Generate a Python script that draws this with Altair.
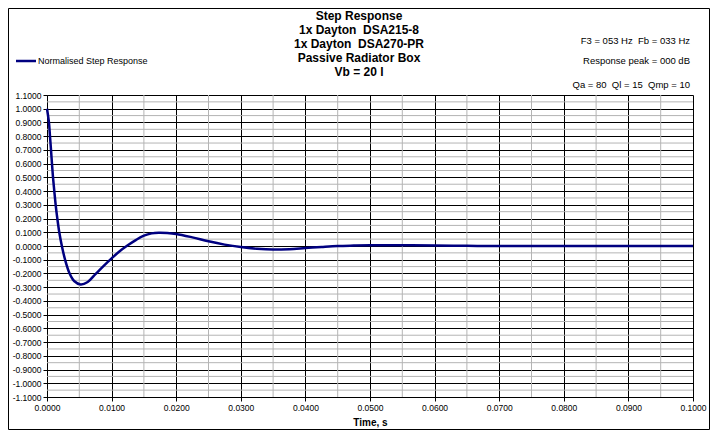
import altair as alt
import pandas as pd

# ---- data ----
time_s = [0.0, 0.0003, 0.00046, 0.00062, 0.00077, 0.00093, 0.00113, 0.00134, 0.0016, 0.0019,
          0.0023, 0.0028, 0.0035, 0.0042, 0.0052, 0.0063, 0.0075, 0.0087, 0.0100, 0.0112,
          0.0125, 0.0138, 0.0150, 0.0162, 0.0173, 0.0186, 0.0200, 0.0225, 0.0250, 0.0275,
          0.0300, 0.0325, 0.0350, 0.0375, 0.0400, 0.0425, 0.0450, 0.0475, 0.0500, 0.0550,
          0.0600, 0.0650, 0.0700, 0.0800, 0.0900, 0.1000]
step_resp = [1.0, 0.9, 0.8, 0.7, 0.6, 0.5, 0.4, 0.3, 0.2, 0.1,
             0.0, -0.1, -0.2, -0.255, -0.28, -0.262, -0.205, -0.148, -0.09, -0.04,
             0.005, 0.045, 0.075, 0.092, 0.097, 0.095, 0.088, 0.063, 0.034, 0.01,
             -0.008, -0.02, -0.026, -0.023, -0.015, -0.007, 0.0, 0.003, 0.005, 0.005,
             0.003, 0.001, 0.0, 0.0, 0.0, 0.0]

x_major = [0.0, 0.01, 0.02, 0.03, 0.04, 0.05, 0.06, 0.07, 0.08, 0.09, 0.1]
x_minor = [0.005, 0.015, 0.025, 0.035, 0.045, 0.055, 0.065, 0.075, 0.085, 0.095]
y_major = [-1.1, -1.0, -0.9, -0.8, -0.7, -0.6, -0.5, -0.4, -0.3, -0.2, -0.1, 0.0,
           0.1, 0.2, 0.3, 0.4, 0.5, 0.6, 0.7, 0.8, 0.9, 1.0, 1.1]
y_minor = [-1.05, -0.95, -0.85, -0.75, -0.65, -0.55, -0.45, -0.35, -0.25, -0.15, -0.05,
           0.05, 0.15, 0.25, 0.35, 0.45, 0.55, 0.65, 0.75, 0.85, 0.95, 1.05]

NB = "\u00a0"
title_lines = ["Step Response", "1x Dayton" + NB + " DSA215-8", "1x Dayton" + NB + " DSA270-PR",
               "Passive Radiator Box", "Vb = 20 l"]
note_lines = ["F3 = 053 Hz" + NB + " Fb = 033 Hz", "Response peak = 000 dB",
              "Qa = 80" + NB + " Ql = 15" + NB + " Qmp = 10"]
series_name = "Normalised Step Response"
x_title = "Time, s"

FONT = "Liberation Sans"
NAVY = "#000080"
W, H = 646, 302

df = pd.DataFrame({"t": time_s, "v": step_resp})
xs = alt.Scale(domain=[0, 0.1], nice=False, zero=False)
ys = alt.Scale(domain=[-1.1, 1.1], nice=False, zero=False)

lbl = "replace(format(datum.value, '.4f'), '\u2212', '-')"

x_axis = alt.Axis(values=x_major, labelExpr=lbl, grid=True, gridColor="black",
                  gridOpacity=1, gridWidth=1, tickColor="black", tickSize=4,
                  domainColor="black", labelFont=FONT, labelFontSize=8.5,
                  labelColor="black", labelPadding=2, titleFont=FONT,
                  titleFontSize=10, titleFontWeight="bold", titleColor="black",
                  titlePadding=6, labelFlush=False)
y_axis = alt.Axis(values=y_major, labelExpr=lbl, grid=True, gridColor="black",
                  gridOpacity=1, gridWidth=1, tickColor="black", tickSize=4,
                  domainColor="black", labelFont=FONT, labelFontSize=8.5,
                  labelColor="black", labelPadding=2, labelFlush=False)

minor_x = alt.Chart(pd.DataFrame({"x": x_minor})).mark_rule(color="#b4b4b4", strokeWidth=1).encode(
    x=alt.X("x:Q", scale=xs, title=x_title, axis=x_axis))
minor_y = alt.Chart(pd.DataFrame({"y": y_minor})).mark_rule(color="#b4b4b4", strokeWidth=1).encode(
    y=alt.Y("y:Q", scale=ys, title=None, axis=y_axis))

line = alt.Chart(df).mark_line(color=NAVY, strokeWidth=2.5, interpolate="catmull-rom").encode(
    x=alt.X("t:Q", scale=xs, title=x_title, axis=x_axis),
    y=alt.Y("v:Q", scale=ys, title=None, axis=y_axis),
)

layers = [minor_x, minor_y, line]

# title lines
title_y = [-79, -65, -51, -37, -23]
for s, yy in zip(title_lines, title_y):
    layers.append(alt.Chart(pd.DataFrame({"s": [s]})).mark_text(
        font=FONT, fontSize=12, fontWeight="bold", color="black", align="center",
        baseline="middle").encode(x=alt.value(312), y=alt.value(yy), text="s:N"))

note_y = [-54, -34, -10]
for s, yy in zip(note_lines, note_y):
    layers.append(alt.Chart(pd.DataFrame({"s": [s]})).mark_text(
        font=FONT, fontSize=9.5, color="black", align="right",
        baseline="middle").encode(x=alt.value(643), y=alt.value(yy), text="s:N"))

# legend
layers.append(alt.Chart(pd.DataFrame({"s": [series_name]})).mark_rule(color=NAVY, strokeWidth=2.5).encode(
    x=alt.value(-31), x2=alt.value(-11), y=alt.value(-34)))
layers.append(alt.Chart(pd.DataFrame({"s": [series_name]})).mark_text(
    font=FONT, fontSize=9, color="black", align="left", baseline="middle").encode(
    x=alt.value(-9), y=alt.value(-34), text="s:N"))

# chart-area border
layers.append(alt.Chart(pd.DataFrame({"s": [0]})).mark_rect(
    fill=None, stroke="black", strokeWidth=1, fillOpacity=0).encode(
    x=alt.value(-38.5), x2=alt.value(662.5), y=alt.value(-86.5), y2=alt.value(334.5)))

chart = alt.layer(*layers).properties(
    width=W, height=H,
    autosize=alt.AutoSizeParams(type="none"),
    padding={"left": 39, "top": 87, "right": 17, "bottom": 33},
    background="white",
).configure_view(stroke=None)

chart.save("out.html", embed_options={"renderer": "svg", "actions": False})
